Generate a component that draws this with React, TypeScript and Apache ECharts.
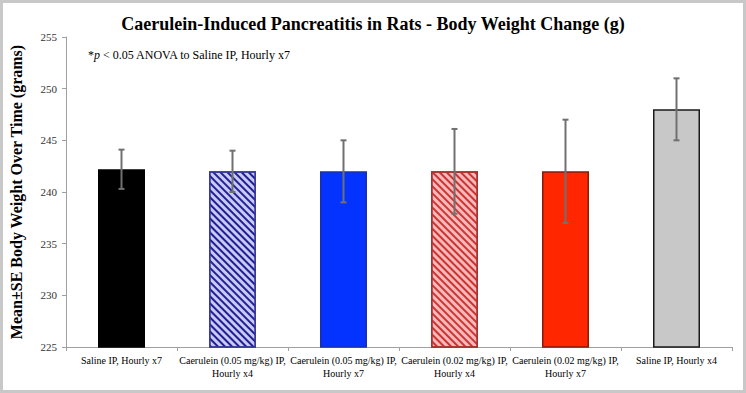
import React, { useEffect, useRef } from "react";
import * as echarts from "echarts";

const categories = [
  "Saline IP, Hourly x7",
  "Caerulein (0.05 mg/kg) IP,\nHourly x4",
  "Caerulein (0.05 mg/kg) IP,\nHourly x7",
  "Caerulein (0.02 mg/kg) IP,\nHourly x4",
  "Caerulein (0.02 mg/kg) IP,\nHourly x7",
  "Saline IP, Hourly x4",
];
const means = [242.2, 242.0, 242.0, 242.0, 242.0, 248.0];
const errors = [1.9, 2.0, 3.0, 4.1, 5.0, 3.0];
const yTicks = [225, 230, 235, 240, 245, 250, 255];

const fills = ["#000000", "#c9c9f2", "#0433ff", "#f6b9b9", "#ff2600", "#c8c8c8"];
const borders = ["#000000", "#3a3a9e", "#1a2fb0", "#a83030", "#8a1a0a", "#1a1a1a"];
const stripes = [null, "#1f1f96", null, "#cc3434", null, null];

const SERIF = "'Liberation Serif', 'Times New Roman', serif";

export default function App() {
  const ref = useRef<HTMLDivElement>(null);
  useEffect(() => {
    document.body.style.margin = "0";
    const chart = echarts.init(ref.current!, undefined, { renderer: "svg" });
    const barData = means.map((v, i) => ({
      value: v,
      itemStyle: {
        color: fills[i],
        borderColor: borders[i],
        borderWidth: 1.5,
        decal: stripes[i]
          ? {
              symbol: "rect",
              symbolSize: 1,
              color: stripes[i],
              dashArrayX: [1, 0],
              dashArrayY: [2, 2.3],
              rotation: Math.PI / 4,
            }
          : undefined,
      },
    }));
    chart.setOption({
      animation: false,
      backgroundColor: "#ffffff",
      title: {
        text: "Caerulein-Induced Pancreatitis in Rats - Body Weight Change (g)",
        left: "center",
        top: 10,
        textStyle: { fontFamily: SERIF, fontWeight: "bold", fontSize: 18, color: "#000" },
      },
      graphic: [
        {
          type: "rect",
          shape: { x: 1.5, y: 1.5, width: 743, height: 390 },
          style: { fill: "none", stroke: "#c8c8c8", lineWidth: 3 },
          silent: true,
        },
        {
          type: "text",
          left: 88,
          top: 49,
          style: {
            text: "{n|*}{i|p}{n| < 0.05 ANOVA to Saline IP, Hourly x7}",
            rich: {
              n: { fontFamily: SERIF, fontSize: 12, fill: "#000" },
              i: { fontFamily: SERIF, fontSize: 12, fontStyle: "italic", fill: "#000" },
            },
          },
        },
      ],
      grid: { left: 60, right: 14, top: 37, bottom: 46, containLabel: false },
      xAxis: {
        type: "category",
        data: categories,
        axisLine: { lineStyle: { color: "#a0a0a0", width: 1 } },
        axisTick: { show: true, alignWithLabel: false, length: 4, lineStyle: { color: "#a0a0a0" } },
        axisLabel: {
          interval: 0,
          fontFamily: SERIF,
          fontSize: 10,
          color: "#000",
          lineHeight: 13,
          margin: 7,
        },
      },
      yAxis: {
        type: "value",
        min: yTicks[0],
        max: yTicks[yTicks.length - 1],
        interval: 5,
        name: "Mean±SE Body Weight Over Time (grams)",
        nameLocation: "middle",
        nameGap: 42,
        nameTextStyle: { fontFamily: SERIF, fontWeight: "bold", fontSize: 16, color: "#000" },
        axisLine: { show: true, lineStyle: { color: "#a0a0a0", width: 1 } },
        axisTick: { show: true, length: 4, lineStyle: { color: "#a0a0a0" } },
        axisLabel: { fontFamily: SERIF, fontSize: 11, color: "#333", margin: 9 },
        splitLine: { show: false },
      },
      series: [
        {
          type: "bar",
          data: barData,
          barWidth: 47,
          z: 2,
        },
        {
          type: "custom",
          z: 5,
          data: means.map((m, i) => [i, m - errors[i], m + errors[i]]),
          renderItem: (params: any, api: any) => {
            const i = api.value(0);
            const lo = api.coord([i, api.value(1)]);
            const hi = api.coord([i, api.value(2)]);
            const x = lo[0];
            const cap = 3;
            const style = { stroke: "#707070", lineWidth: 2 };
            return {
              type: "group",
              children: [
                { type: "line", shape: { x1: x, y1: lo[1], x2: x, y2: hi[1] }, style },
                { type: "line", shape: { x1: x - cap, y1: hi[1], x2: x + cap, y2: hi[1] }, style },
                { type: "line", shape: { x1: x - cap, y1: lo[1], x2: x + cap, y2: lo[1] }, style },
              ],
            };
          },
        },
      ],
    });
    return () => chart.dispose();
  }, []);
  return <div ref={ref} style={{ width: 746, height: 393 }} />;
}
